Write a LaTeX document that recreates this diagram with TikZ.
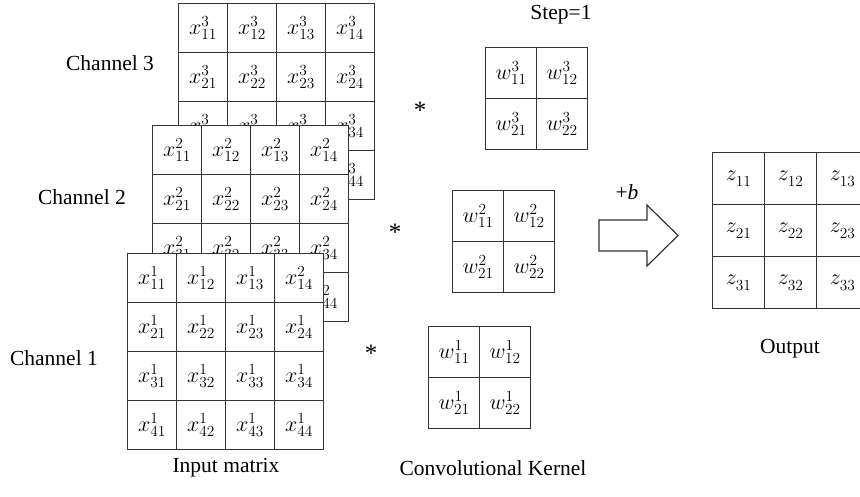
\RequirePackage{fix-cm}
\documentclass[tikz,border=0pt]{standalone}
\usepackage{fontspec}
\setmainfont{Liberation Serif}
\newcommand{\lblfont}{\fontsize{21.5}{24}\selectfont}
\newcommand{\cellfont}{\fontsize{22}{24}\selectfont}
\newcommand{\astfont}{\fontsize{25}{28}\selectfont}
\definecolor{gridline}{HTML}{333333}
\tikzset{
  cell/.style={draw=gridline, line width=1.2pt, fill=white, minimum size=#1,
    inner sep=0pt, anchor=north west, font=\cellfont},
  lbl/.style={font=\lblfont, inner sep=1pt},
  astsign/.style={font=\astfont, inner sep=1pt},
  bigarrow/.style={draw=gridline, line width=1.2pt, fill=white, line join=miter}
}
\begin{document}
\begin{tikzpicture}[x=1pt,y=-1pt]
\useasboundingbox (0,0) rectangle (860,496);

% input channels, back to front; the bottom-left cells of the two back
% channels lie fully under the front channel and carry no entry
\foreach \r in {1,...,4}
  \foreach \c in {1,...,4}
    \node[cell=49pt] (a3-\r\c) at ({178+(\c-1)*49},{3+(\r-1)*49})
      {\ifnum\r=4 \ifnum\c<4 \else $x^{3}_{\r\c}$\fi\else $x^{3}_{\r\c}$\fi};
\foreach \r in {1,...,4}
  \foreach \c in {1,...,4}
    \node[cell=49pt] (a2-\r\c) at ({152+(\c-1)*49},{125+(\r-1)*49})
      {\ifnum\r=4 \ifnum\c<4 \else $x^{2}_{\r\c}$\fi\else $x^{2}_{\r\c}$\fi};
\foreach \r in {1,...,4}
  \foreach \c in {1,...,4}
    \node[cell=49pt] (a1-\r\c) at ({127+(\c-1)*49},{253+(\r-1)*49})
      {$x^{\ifnum\r\c=14 2\else 1\fi}_{\r\c}$};

% kernels
\foreach \r in {1,2}
  \foreach \c in {1,2}
    \node[cell=51pt] (k3-\r\c) at ({485+(\c-1)*51},{47+(\r-1)*51}) {$w^{3}_{\r\c}$};
\foreach \r in {1,2}
  \foreach \c in {1,2}
    \node[cell=51pt] (k2-\r\c) at ({452+(\c-1)*51},{190+(\r-1)*51}) {$w^{2}_{\r\c}$};
\foreach \r in {1,2}
  \foreach \c in {1,2}
    \node[cell=51pt] (k1-\r\c) at ({428+(\c-1)*51},{326+(\r-1)*51}) {$w^{1}_{\r\c}$};

% output
\foreach \r in {1,2,3}
  \foreach \c in {1,2,3}
    \node[cell=52pt] (z-\r\c) at ({712+(\c-1)*52},{152+(\r-1)*52}) {$z^{}_{\r\c}$};

% convolution signs
\node[astsign] (ast3) at (420,110) {*};
\node[astsign] (ast2) at (395,232) {*};
\node[astsign] (ast1) at (371,353) {*};

% block arrow with bias
\draw[bigarrow] (599,220) -- (647,220) -- (647,205) -- (678,235.5)
  -- (647,266) -- (647,251) -- (599,251) -- cycle;
\node[lbl] (bias) at (627,192) {+\textit{b}};

% labels
\node[lbl] (ch3) at (110,63) {Channel 3};
\node[lbl] (ch2) at (82,197) {Channel 2};
\node[lbl] (ch1) at (54,358) {Channel 1};
\node[lbl] (step) at (561,15) {Step=1};
\node[lbl] (out) at (790,349) {Output};
\node[lbl] (inlbl) at (226,468) {Input matrix};
\node[lbl] (klbl) at (493,468) {Convolutional Kernel};
\end{tikzpicture}
\end{document}
